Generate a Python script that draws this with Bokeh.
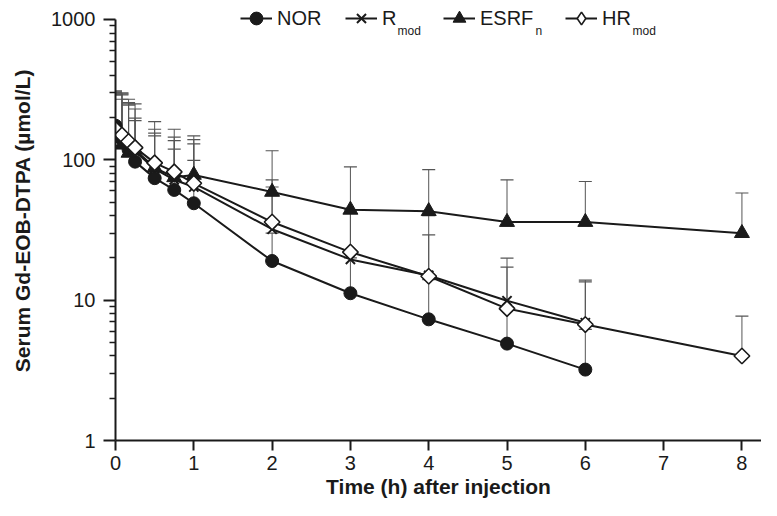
import math
from bokeh.plotting import figure
from bokeh.models import (ColumnDataSource, Whisker, TeeHead, FixedTicker, PrintfTickFormatter,
                          Legend, LegendItem, Label, Range1d)
from bokeh.embed import file_html
from bokeh.resources import INLINE

# ---- data ----
t_short = [0, 0.083, 0.167, 0.25, 0.5, 0.75, 1, 2, 3, 4, 5, 6]
t_long = [0, 0.083, 0.167, 0.25, 0.5, 0.75, 1, 2, 3, 4, 5, 6, 8]

nor = [175, 140, 118, 97, 74, 61, 49, 19, 11.2, 7.3, 4.9, 3.2]
nor_top = [300, 290, 245, 198, 148, 119, 99, 30, 20, 14, 9.0, 6.2]

r_mod = [160, 145, 128, 115, 86, 72, 64, 32, 19.5, 15, 9.9, 6.9]
r_mod_top = [310, 300, 270, 250, 165, 145, 130, 64, 42, 29.2, 19.9, 13.9]

esrf_n = [145, 128, 112, 118, 88, 75, 78, 59, 44, 43, 36, 36, 30]
esrf_n_top = [290, 270, 250, 190, 155, 137, 148, 116, 89, 85, 72, 70, 58]

hr_mod = [165, 150, 135, 122, 95, 82, 68, 36, 22, 14.8, 8.7, 6.7, 4.0]
hr_mod_top = [305, 295, 255, 230, 187, 165, 139, 72, 44, 40, 17.2, 13.5, 7.7]

x_ticks = [0, 1, 2, 3, 4, 5, 6, 7, 8]
y_ticks = [1, 10, 100, 1000]
y_minor = [m * d for d in (1, 10, 100) for m in range(2, 10)]

x_title = "Time (h) after injection"
y_title = "Serum Gd-EOB-DTPA (µmol/L)"

FONT = "Liberation Sans"
INK = "#1a1a1a"
ERR = "#555555"

p = figure(width=761, height=500, y_axis_type="log", output_backend="svg",
           toolbar_location=None, x_range=Range1d(0, 8.25), y_range=Range1d(1, 1364),
           min_border_left=115, min_border_right=0, min_border_top=0, min_border_bottom=58)
p.grid.visible = False
p.outline_line_color = None
p.background_fill_color = "white"
p.border_fill_color = "white"

series = [
    ("NOR", None, t_short, nor, nor_top,
     dict(marker="circle", size=13, fill_color=INK, line_color=INK), None),
    ("R", "mod", t_short, r_mod, r_mod_top,
     dict(marker="x", size=13, line_color=INK, line_width=2), None),
    ("ESRF", "n", t_long, esrf_n, esrf_n_top,
     dict(marker="triangle", size=15, fill_color=INK, line_color=INK), None),
    ("HR", "mod", t_long, hr_mod, hr_mod_top,
     dict(marker="square", angle=math.pi / 4, size=11, fill_color="white", line_color=INK, line_width=1.6),
     dict(marker="diamond", fill_color="white", line_color=INK, line_width=1.6)),
]

legend_x = [125, 230, 328, 450]
sub_x = [None, 282, 420, 517]

for i, (name, sub, t, vals, tops, mk, legend_mk) in enumerate(series):
    src = ColumnDataSource(dict(t=t, v=vals, top=tops))
    w = Whisker(base="t", lower="v", upper="top", source=src, dimension="height",
                line_color=ERR, line_width=1, lower_head=None,
                upper_head=TeeHead(size=13, line_color=ERR, line_width=1.2))
    p.add_layout(w)
    ln = p.line("t", "v", source=src, line_color=INK, line_width=2)
    sc = p.scatter("t", "v", source=src, **mk)
    leg_r = [ln, sc]
    if legend_mk is not None:
        # legend-only key marker (a single missing point, never drawn in the plot)
        key_src = ColumnDataSource(dict(t=[float("nan")], v=[float("nan")]))
        leg_r = [ln, p.scatter("t", "v", source=key_src, **legend_mk)]
    leg = Legend(items=[LegendItem(label=name, renderers=leg_r)],
                 location=(legend_x[i], 406), orientation="horizontal",
                 padding=0, margin=0, spacing=0, glyph_width=32, glyph_height=32,
                 label_height=21, label_standoff=5,
                 label_text_font=FONT, label_text_font_size="20px", label_text_color=INK,
                 border_line_alpha=0, background_fill_alpha=0)
    p.add_layout(leg, "center")
    if sub:
        p.add_layout(Label(x=sub_x[i], y=410, x_units="screen", y_units="screen", text=sub,
                           text_font=FONT, text_font_size="12px", text_color=INK,
                           text_baseline="alphabetic"))

# axes
for ax in (p.xaxis[0], p.yaxis[0]):
    ax.axis_line_width = 2
    ax.axis_line_color = INK
    ax.major_tick_line_width = 2
    ax.major_tick_line_color = INK
    ax.major_tick_in = 0
    ax.major_label_text_font = FONT
    ax.major_label_text_font_size = "20px"
    ax.major_label_text_color = INK
    ax.axis_label_text_font = FONT
    ax.axis_label_text_font_size = "21px"
    ax.axis_label_text_font_style = "bold"
    ax.axis_label_text_color = INK

p.xaxis.ticker = FixedTicker(ticks=x_ticks)
p.xaxis.major_tick_out = 10
p.xaxis.minor_tick_line_color = None
p.xaxis.major_label_standoff = 5
p.xaxis.axis_label = x_title
p.xaxis.axis_label_standoff = 2

p.yaxis.ticker = FixedTicker(ticks=y_ticks, minor_ticks=y_minor)
p.yaxis.bounds = (1, 1000)
p.yaxis.formatter = PrintfTickFormatter(format="%d")
p.yaxis.major_tick_out = 12
p.yaxis.minor_tick_out = 6
p.yaxis.minor_tick_in = 0
p.yaxis.minor_tick_line_width = 1.5
p.yaxis.minor_tick_line_color = INK
p.yaxis.major_label_standoff = 8
p.yaxis.axis_label = y_title
p.yaxis.axis_label_standoff = 14

open("out.html", "w").write(file_html(p, INLINE))
